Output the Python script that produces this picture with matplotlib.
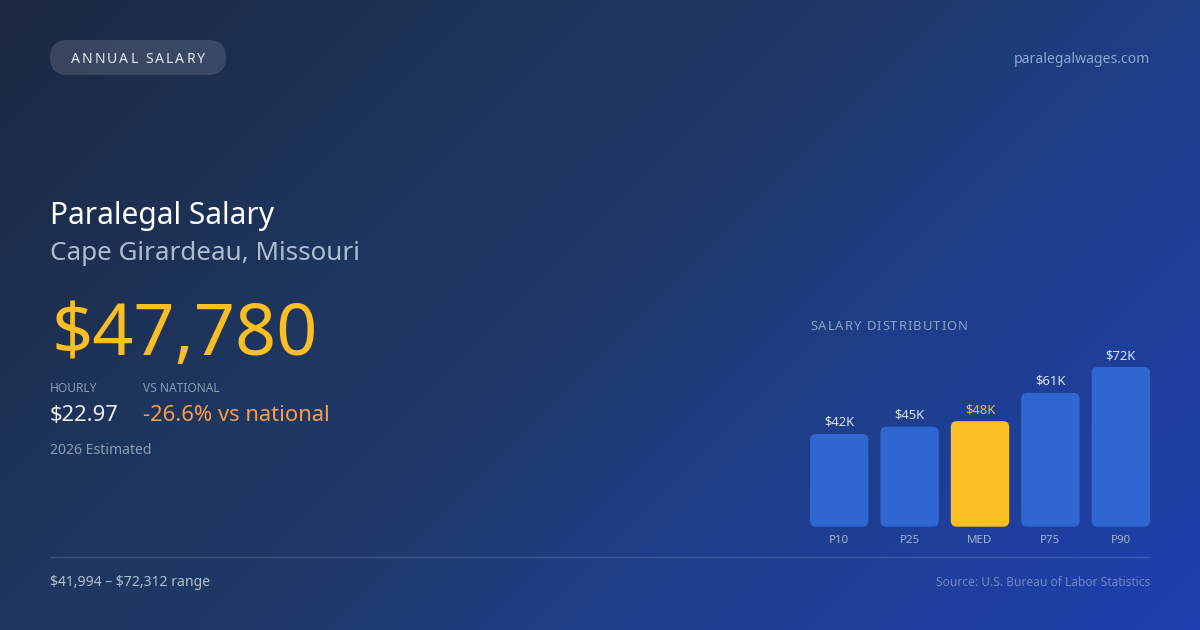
import matplotlib
matplotlib.use("Agg")
import matplotlib.pyplot as plt
import numpy as np
from matplotlib.patches import FancyBboxPatch
from matplotlib.colors import LinearSegmentedColormap

# ---------------- data ----------------
categories = ["P10", "P25", "MED", "P75", "P90"]
values = [41994, 45300, 47780, 60600, 72312]
bar_labels = ["$42K", "$45K", "$48K", "$61K", "$72K"]
highlight = "MED"

title = "Paralegal Salary"
subtitle = "Cape Girardeau, Missouri"
badge_text = "ANNUAL SALARY"
site = "paralegalwages.com"
big_value = "$47,780"
hourly_label = "HOURLY"
hourly_value = "$22.97"
vs_label = "VS NATIONAL"
vs_value = "-26.6% vs national"
estimate_note = "2026 Estimated"
range_text = "$41,994 – $72,312 range"
source_text = "Source: U.S. Bureau of Labor Statistics"
dist_title = "SALARY DISTRIBUTION"

# ---------------- figure ----------------
W, H = 1200, 630
FONT = ["Noto Sans", "DejaVu Sans"]
plt.rcParams["font.family"] = FONT
plt.rcParams["text.parse_math"] = False
fig = plt.figure(figsize=(W / 100, H / 100), dpi=100)

def px(v):  # pixel -> points
    return v * 0.72

# background gradient (135deg)
ax = fig.add_axes([0, 0, 1, 1])
ax.set_xlim(0, W)
ax.set_ylim(H, 0)
ax.axis("off")
xx, yy = np.meshgrid(np.linspace(0, W, 600), np.linspace(0, H, 315))
t = (xx + yy) / (W + H)
cmap = LinearSegmentedColormap.from_list(
    "bg",
    [(0.0, "#1c2940"), (0.34, "#1e3660"), (0.5, "#1e3a6a"),
     (0.66, "#1e3e88"), (1.0, "#1e40b0")])
ax.imshow(t, cmap=cmap, vmin=0, vmax=1, extent=(0, W, H, 0),
          aspect="auto", interpolation="bilinear", zorder=0)

renderer = fig.canvas.get_renderer()

def text_w(s, size):
    tt = ax.text(0, 0, s, fontsize=size)
    w = tt.get_window_extent(renderer).width
    tt.remove()
    return w

def spaced(x, y, s, size, spacing, color, ha="left", va="baseline"):
    ref = "I"
    wref = text_w(ref, size)
    offs = [0.0] + [text_w(s[:i] + ref, size) - wref for i in range(1, len(s))]
    total = text_w(s, size) + spacing * (len(s) - 1)
    if ha == "center":
        x0 = x - total / 2
    elif ha == "right":
        x0 = x - total
    else:
        x0 = x
    for i, ch in enumerate(s):
        if ch == " ":
            continue
        ax.text(x0 + offs[i] + spacing * i, y, ch, fontsize=size,
                color=color, ha="left", va=va, zorder=5)

# badge
badge = FancyBboxPatch((50, 40), 176, 35,
                       boxstyle="round,pad=0,rounding_size=17.5",
                       fc=(1, 1, 1, 0.13), ec="none", zorder=3)
ax.add_patch(badge)
spaced(138, 63, badge_text, px(14), 2.0, "#e2e8f0", ha="center")

ax.text(1150, 63, site, fontsize=px(14), color="#8fa6d0", ha="right", va="baseline")

# left texts
ax.text(50, 224, title, fontsize=px(30), color="#ffffff", va="baseline")
ax.text(50, 260, subtitle, fontsize=px(26), color="#aebdd2", va="baseline")
ax.text(51, 355, big_value, fontsize=px(72), color="#fbbf24", va="baseline")

ax.text(50, 392, hourly_label, fontsize=px(12), color="#8a9bb3", va="baseline")
ax.text(143, 392, vs_label, fontsize=px(12), color="#8a9bb3", va="baseline")
ax.text(50, 421, hourly_value, fontsize=px(22), color="#eef2f7", va="baseline")
ax.text(143, 421, vs_value, fontsize=px(22), color="#f59e4b", va="baseline")
ax.text(50, 454, estimate_note, fontsize=px(14), color="#8d9cb3", va="baseline")

# divider
ax.plot([50, 1150], [556.5, 556.5], color=(1, 1, 1, 0.14), lw=1, zorder=2)

ax.text(50, 586, range_text, fontsize=px(14), color="#b3bfd0", va="baseline")
ax.text(1150, 586, source_text, fontsize=px(12), color="#6d88c4",
        ha="right", va="baseline")

spaced(810, 330, dist_title, px(13), 1.0, "#8ea3c9")

# ---------------- bar chart ----------------
bar_left, bar_right = 810, 1150
bar_bottom_px, bar_top_px = 526.7, 367.0
pitch = (bar_right - bar_left - 58.4) / 4
wu = 58.4 / pitch
bax = fig.add_axes([bar_left / W, (H - bar_bottom_px) / H,
                    (bar_right - bar_left) / W, (bar_bottom_px - bar_top_px) / H])
bax.set_xlim(-wu / 2, len(categories) - 1 + wu / 2)
bax.set_ylim(0, max(values))
bax.axis("off")
bax.patch.set_alpha(0)

x = np.arange(len(categories))
colors = ["#fbbf24" if c == highlight else "#3066d0" for c in categories]
bars = bax.bar(x, values, width=wu, color=colors)

units_per_px_x = (len(categories) - 1 + wu) / (bar_right - bar_left)
units_per_px_y = max(values) / (bar_bottom_px - bar_top_px)
aspect = units_per_px_y / units_per_px_x
radius = 6 * units_per_px_x
for b, c in zip(bars, colors):
    b.set_visible(False)
    fb = FancyBboxPatch((b.get_x(), b.get_y()), b.get_width(), b.get_height(),
                        boxstyle=f"round,pad=0,rounding_size={radius}",
                        mutation_aspect=aspect, fc=c, ec="none", clip_on=False)
    bax.add_patch(fb)

for xi, v, lab, cat in zip(x, values, bar_labels, categories):
    col = "#fbbf24" if cat == highlight else "#dde6f5"
    bax.annotate(lab, (xi, v), xytext=(0, 8), textcoords="offset pixels",
                 ha="center", va="baseline", fontsize=px(13), color=col,
                 annotation_clip=False)
    bax.annotate(cat, (xi, 0), xytext=(0, -16.5), textcoords="offset pixels",
                 ha="center", va="baseline", fontsize=px(11.5), color="#a3b4d6",
                 annotation_clip=False)

fig.savefig("out.png", dpi=100)
